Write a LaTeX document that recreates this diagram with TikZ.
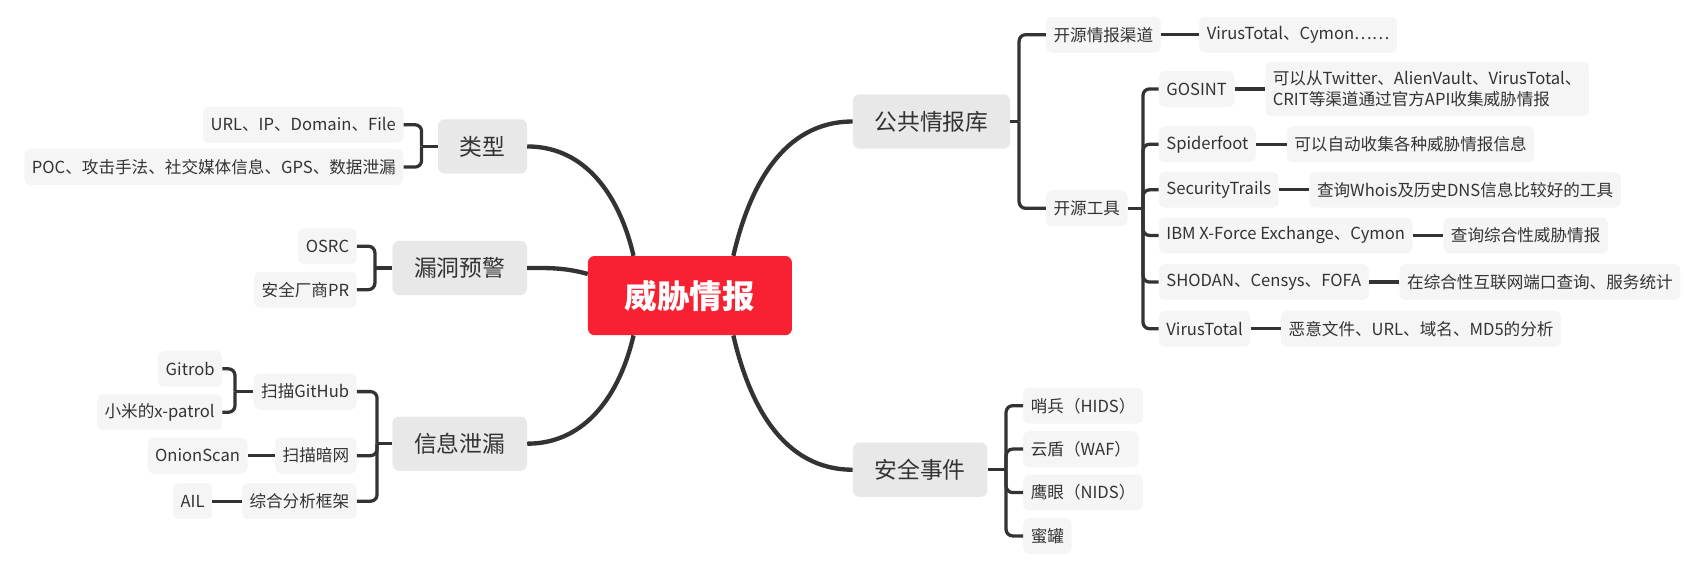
\documentclass[tikz,border=0pt]{standalone}
\usepackage{fontspec}
\setmainfont{Noto Sans CJK SC}
\usetikzlibrary{positioning}
\definecolor{ink}{HTML}{333333}
\definecolor{alarm}{HTML}{F72131}
\definecolor{midgray}{HTML}{E8E8E8}
\definecolor{leafgray}{HTML}{F5F5F5}

\begin{document}
\begin{tikzpicture}[x=1pt, y=-1pt,
		root/.style={fill=alarm, rounded corners=6pt, text=white, font=\fontsize{30}{36}\selectfont\bfseries, minimum width=188pt, minimum height=73pt},
		topic/.style={fill=midgray, rounded corners=6pt, text=ink, font=\fontsize{21}{25}\selectfont, minimum height=50pt, inner xsep=20pt},
		leaf/.style={fill=leafgray, rounded corners=5pt, text=ink, font=\fontsize{15.3}{19}\selectfont, minimum height=33pt, inner xsep=7pt},
		branch/.style={draw=ink, line width=4pt},
		link/.style={draw=ink, line width=3pt, rounded corners=6pt},
		node distance=28pt,
	]
		\useasboundingbox (0,0) rectangle (1568,527);
		
		\node (ti) [root] at (636,272.5) {威胁情报};
		\node (lx) [topic, anchor=east] at (486,135) {类型};
		\node (ld) [topic, anchor=east] at (486,247) {漏洞预警};
		\node (xx) [topic, anchor=east] at (486,409) {信息泄漏};
		\node (gg) [topic, anchor=west] at (786,112) {公共情报库};
		\node (aq) [topic, anchor=west] at (786,433) {安全事件};
		
		\node (lx1) [leaf, anchor=east] at (372,115) {URL、IP、Domain、File};
		\node (lx2) [leaf, anchor=east] at (372,154) {POC、攻击手法、社交媒体信息、GPS、数据泄漏};
		\node (ld1) [leaf, anchor=east] at (329,227) {OSRC};
		\node (ld2) [leaf, anchor=east] at (329,267) {安全厂商PR};
		\node (xx1) [leaf, anchor=east] at (329,361) {扫描GitHub};
		\node (xx2) [leaf, anchor=east] at (329,420) {扫描暗网};
		\node (xx3) [leaf, anchor=east] at (329,462) {综合分析框架};
		\node (git1) [leaf, anchor=east] at (205,340) {Gitrob};
		\node (git2) [leaf, anchor=east] at (205,380) {小米的x-patrol};
		\node (onion) [leaf, left=25pt of xx2] {OnionScan};
		\node (ail) [leaf, left=27pt of xx3] {AIL};
		
		\node (gg1) [leaf, anchor=west] at (964,32) {开源情报渠道};
		\node (gg2) [leaf, anchor=west] at (964,192) {开源工具};
		\node (vtc) [leaf, right=35pt of gg1] {VirusTotal、Cymon……};
		\node (t1) [leaf, anchor=west] at (1068,82) {GOSINT};
		\node (t2) [leaf, anchor=west] at (1068,133) {Spiderfoot};
		\node (t3) [leaf, anchor=west] at (1068,175) {SecurityTrails};
		\node (t4) [leaf, anchor=west] at (1068,217) {IBM X-Force Exchange、Cymon};
		\node (t5) [leaf, anchor=west] at (1068,260) {SHODAN、Censys、FOFA};
		\node (t6) [leaf, anchor=west] at (1068,303) {VirusTotal};
		\node (d1) [leaf, right=of t1, align=left, minimum height=50pt] {可以从Twitter、AlienVault、VirusTotal、\\CRIT等渠道通过官方API收集威胁情报};
		\node (d2) [leaf, right=of t2] {可以自动收集各种威胁情报信息};
		\node (d3) [leaf, right=of t3] {查询Whois及历史DNS信息比较好的工具};
		\node (d4) [leaf, right=of t4] {查询综合性威胁情报};
		\node (d5) [leaf, right=of t5] {在综合性互联网端口查询、服务统计};
		\node (d6) [leaf, right=of t6] {恶意文件、URL、域名、MD5的分析};
		\node (s1) [leaf, anchor=west] at (943,374) {哨兵（HIDS）};
		\node (s2) [leaf, anchor=west] at (943,414) {云盾（WAF）};
		\node (s3) [leaf, anchor=west] at (943,454) {鹰眼（NIDS）};
		\node (s4) [leaf, anchor=west] at (943,494) {蜜罐};
		
		\draw[branch] ([xshift=-52pt]ti.north) to[out=103, in=0] (lx.east);
		\draw[branch] ([yshift=20pt]ti.west) to[out=165, in=0] (ld.east);
		\draw[branch] ([xshift=-52pt]ti.south) to[out=-103, in=0] (xx.east);
		\draw[branch] ([xshift=40pt]ti.north) to[out=77, in=180] (gg.west);
		\draw[branch] ([xshift=40pt]ti.south) to[out=-77, in=180] (aq.west);
		
		\coordinate (lxj) at ([xshift=-15pt]lx.west);
		\coordinate (ldj) at ([xshift=-16pt]ld.west);
		\coordinate (xxj) at ([xshift=-14pt]xx.west);
		\coordinate (gitj) at ([xshift=-17pt]xx1.west);
		\coordinate (ggj) at ([xshift=8pt]gg.east);
		\coordinate (toolj) at ([xshift=14pt]gg2.east);
		\coordinate (aqj) at ([xshift=17pt]aq.east);
		\draw[link] (lx.west) -- (lxj);
		\draw[link] (ld.west) -- (ldj);
		\draw[link] (xx.west) -- (xxj);
		\draw[link] (xx1.west) -- (gitj);
		\draw[link] (gg.east) -- (ggj);
		\draw[link] (gg2.east) -- (toolj);
		\draw[link] (aq.east) -- (aqj);
		\foreach \c in {lx1,lx2} \draw[link] (lxj) |- (\c.east);
		\foreach \c in {ld1,ld2} \draw[link] (ldj) |- (\c.east);
		\foreach \c in {xx1,xx2,xx3} \draw[link] (xxj) |- (\c.east);
		\foreach \c in {git1,git2} \draw[link] (gitj) |- (\c.east);
		\foreach \c in {gg1,gg2} \draw[link] (ggj) |- (\c.west);
		\foreach \c in {t1,t2,t3,t4,t5,t6} \draw[link] (toolj) |- (\c.west);
		\foreach \c in {s1,s2,s3,s4} \draw[link] (aqj) |- (\c.west);
		
		\draw[link] (onion) -- (xx2);
		\draw[link] (ail) -- (xx3);
		\draw[link] (gg1) -- (vtc);
		\foreach \i in {1,...,6} \draw[link] (t\i) -- (d\i);
	\end{tikzpicture}
\end{document}
